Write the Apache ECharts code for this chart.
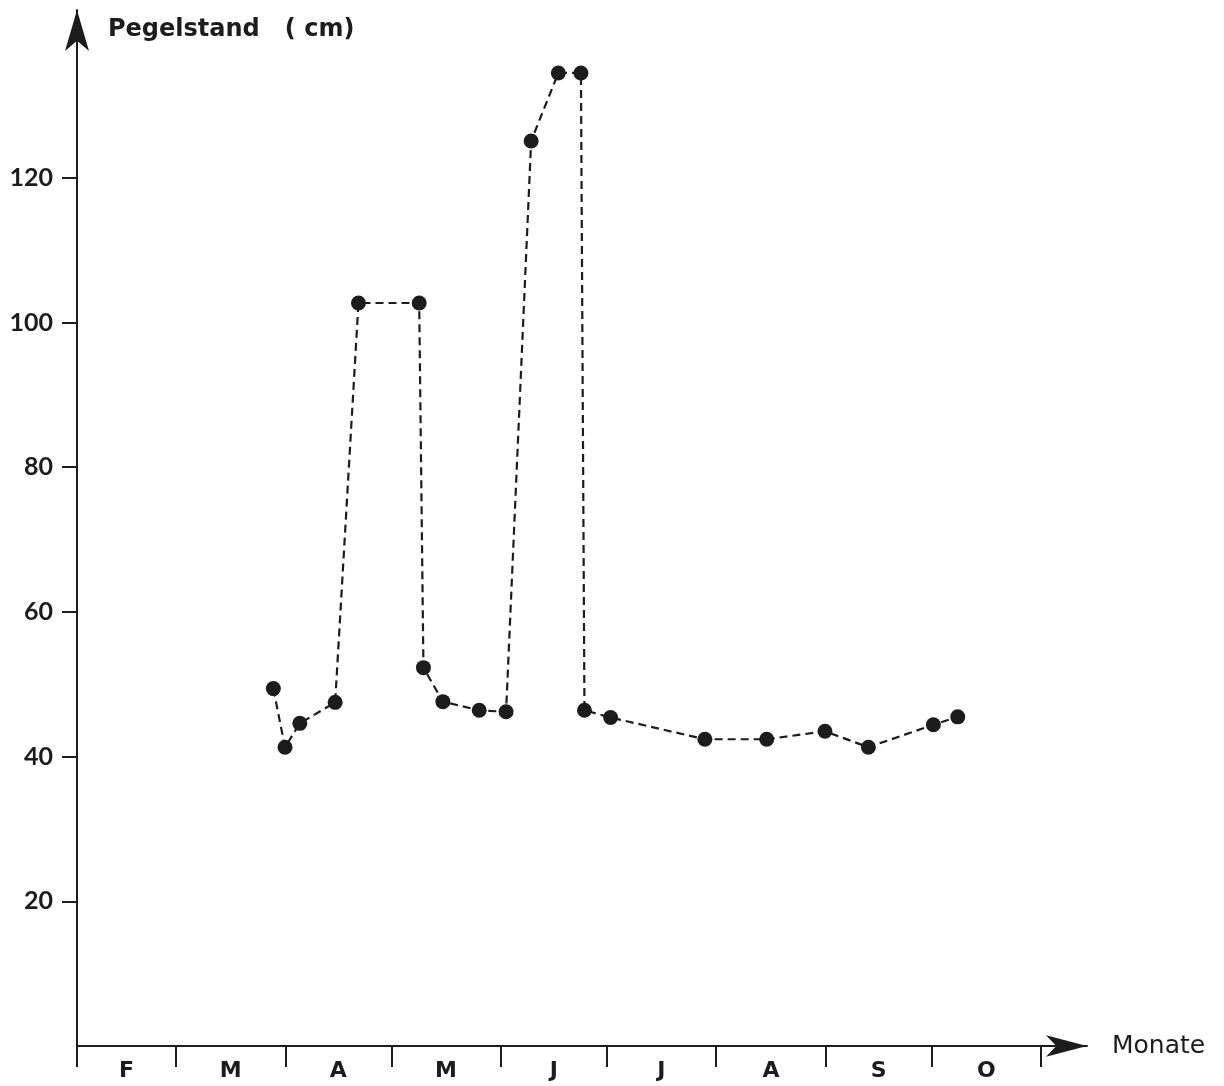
<!DOCTYPE html>
<html>
<head>
<meta charset="utf-8">
<script src="https://cdn.jsdelivr.net/npm/echarts@6/dist/echarts.min.js"></script>
<style>html,body{margin:0;padding:0;background:#fff}#c{width:1224px;height:1086px}</style>
</head>
<body>
<div id="c"></div>
<script>
// Days counted from 1 February
var days   = [55.6, 58.9, 63.1, 73.1, 79.7, 96.9, 98.1, 103.6, 113.9, 121.5, 128.6, 136.3, 142.7, 143.7, 151.1, 177.8, 195.3, 211.8, 224.1, 242.5, 249.4];
var levels = [49.4, 41.3, 44.6, 47.5, 102.7, 102.7, 52.3, 47.6, 46.4, 46.2, 125.1, 134.5, 134.5, 46.4, 45.4, 42.4, 42.4, 43.5, 41.3, 44.4, 45.5];
var monthStarts = [0, 28, 59, 89, 120, 150, 181, 212, 242, 273];
var monthLabels = ['F', 'M', 'A', 'M', 'J', 'J', 'A', 'S', 'O'];
var yTicks = [20, 40, 60, 80, 100, 120];

var monthMids = [];
for (var i = 0; i < monthLabels.length; i++) monthMids.push((monthStarts[i] + monthStarts[i + 1]) / 2);
var data = days.map(function (d, i) { return [d, levels[i]]; });

var ink = '#1c1c1c';
var wide = '"DejaVu Sans", sans-serif';
var chart = echarts.init(document.getElementById('c'));
chart.setOption({
  backgroundColor: '#ffffff',
  animation: false,
  grid: { left: 77, right: 137, top: 10, bottom: 40, containLabel: false },
  xAxis: {
    type: 'value', min: 0, max: 286,
    name: 'Monate', nameLocation: 'end', nameGap: 25,
    nameTextStyle: { color: ink, fontFamily: wide, fontSize: 25, fontWeight: 'normal', align: 'left', verticalAlign: 'middle', padding: [18, 0, 0, 0] },
    splitLine: { show: false },
    axisLine: { lineStyle: { color: ink, width: 2 }, symbol: ['none', 'arrow'], symbolSize: [16, 41] },
    axisTick: { show: true, customValues: monthStarts, length: 21, lineStyle: { color: ink, width: 2 } },
    axisLabel: {
      customValues: monthMids, margin: 14, color: ink, fontFamily: wide, fontSize: 22, fontWeight: 'bold',
      formatter: function (v) {
        for (var i = 0; i < monthMids.length; i++) if (Math.abs(monthMids[i] - v) < 0.01) return monthLabels[i];
        return '';
      }
    }
  },
  yAxis: {
    type: 'value', min: 0, max: 143.2,
    name: 'Pegelstand   ( cm)', nameLocation: 'end', nameGap: -20,
    nameTextStyle: { color: ink, fontFamily: wide, fontSize: 24, fontWeight: 'bold', align: 'left', verticalAlign: 'middle', padding: [0, 0, 0, 31] },
    splitLine: { show: false },
    axisLine: { show: true, lineStyle: { color: ink, width: 2 }, symbol: ['none', 'arrow'], symbolSize: [18, 41] },
    axisTick: { show: true, customValues: yTicks, length: 15, lineStyle: { color: ink, width: 2 } },
    axisLabel: { customValues: yTicks, margin: 24, color: ink, fontFamily: 'Lato, sans-serif', fontSize: 25, fontWeight: 'bold' }
  },
  series: [{
    type: 'line',
    data: data,
    symbol: 'circle', symbolSize: 15,
    itemStyle: { color: ink },
    lineStyle: { color: ink, width: 2.2, type: [8, 5] }
  }]
});
</script>
</body>
</html>
